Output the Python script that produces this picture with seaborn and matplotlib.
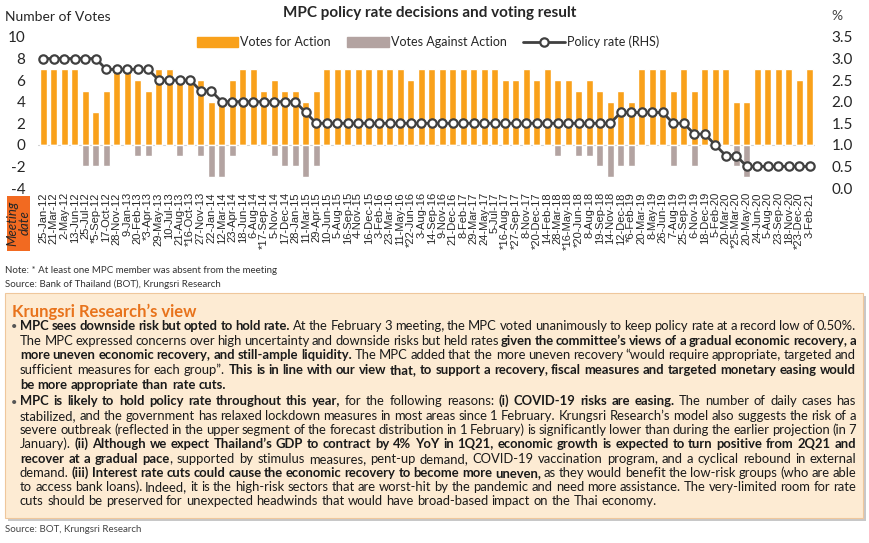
import matplotlib
matplotlib.use('Agg')
import matplotlib.pyplot as plt
import seaborn as sns
import numpy as np
import pandas as pd
from matplotlib.font_manager import FontProperties
from matplotlib.patches import Patch, Rectangle
from matplotlib.lines import Line2D

meeting_dates = [
    '25-Jan-12', '21-Mar-12', '2-May-12', '13-Jun-12', '25-Jul-12', '*5-Sep-12', '17-Oct-12', '28-Nov-12',
    '9-Jan-13', '20-Feb-13', '*3-Apr-13', '29-May-13', '10-Jul-13', '21-Aug-13', '*16-Oct-13', '27-Nov-13',
    '22-Jan-14', '12-Mar-14', '23-Apr-14', '18-Jun-14', '6-Aug-14', '*17-Sep-14', '5-Nov-14', '17-Dec-14',
    '28-Jan-15', '11-Mar-15', '29-Apr-15', '10-Jun-15', '5-Aug-15', '16-Sep-15', '4-Nov-15', '16-Dec-15',
    '3-Feb-16', '23-Mar-16', '11-May-16', '*22-Jun-16', '3-Aug-16', '14-Sep-16', '9-Nov-16', '21-Dec-16',
    '8-Feb-17', '29-Mar-17', '24-May-17', '5-Jul-17', '*16-Aug-17', '*27-Sep-17', '8-Nov-17', '*20-Dec-17',
    '14-Feb-18', '28-Mar-18', '*16-May-18', '*20-Jun-18', '8-Aug-18', '19-Sep-18', '14-Nov-18', '12-Dec-18',
    '*6-Feb-19', '20-Mar-19', '8-May-19', '26-Jun-19', '7-Aug-19', '25-Sep-19', '6-Nov-19', '18-Dec-19',
    '5-Feb-20', '20-Mar-20', '*25-Mar-20', '20-May-20', '24-Jun-20', '5-Aug-20', '23-Sep-20', '18-Nov-20',
    '*23-Dec-20', '3-Feb-21']

votes_for = [7, 7, 7, 7, 5, 3, 5, 7,
             7, 6, 5, 7, 7, 6, 6, 6,
             4, 4, 6, 7, 7, 5, 6, 5,
             5, 4, 5, 7, 7, 7, 7, 7,
             7, 7, 7, 6, 7, 7, 7, 7,
             7, 7, 7, 7, 6, 6, 7, 6,
             7, 6, 6, 5, 6, 5, 4, 5,
             4, 7, 7, 7, 5, 7, 5, 7,
             7, 7, 4, 4, 7, 7, 7, 7,
             6, 7]

votes_against = [0, 0, 0, 0, -2, -2, -2, 0,
                 0, -1, -1, 0, 0, -1, 0, -1,
                 -3, -3, -1, 0, 0, 0, -1, -2,
                 -2, -3, -2, 0, 0, 0, 0, 0,
                 0, 0, 0, 0, 0, 0, 0, 0,
                 0, 0, 0, 0, 0, 0, 0, 0,
                 0, -1, 0, -1, -1, -2, -3, -2,
                 -2, 0, 0, 0, -2, 0, -2, 0,
                 0, 0, -2, -3, 0, 0, 0, 0,
                 0, 0]

policy_rate = [3.0, 3.0, 3.0, 3.0, 3.0, 3.0, 2.75, 2.75,
               2.75, 2.75, 2.75, 2.5, 2.5, 2.5, 2.5, 2.25,
               2.25, 2.0, 2.0, 2.0, 2.0, 2.0, 2.0, 2.0,
               2.0, 1.75, 1.5, 1.5, 1.5, 1.5, 1.5, 1.5,
               1.5, 1.5, 1.5, 1.5, 1.5, 1.5, 1.5, 1.5,
               1.5, 1.5, 1.5, 1.5, 1.5, 1.5, 1.5, 1.5,
               1.5, 1.5, 1.5, 1.5, 1.5, 1.5, 1.5, 1.75,
               1.75, 1.75, 1.75, 1.75, 1.5, 1.5, 1.25, 1.25,
               1.0, 0.75, 0.75, 0.5, 0.5, 0.5, 0.5, 0.5,
               0.5, 0.5]

bullet_1 = [
    [(True, 'MPC sees downside risk but opted to hold rate.'),
     (False, ' At the February 3 meeting, the MPC voted unanimously to keep policy rate at a record low of 0.50%.')],
    [(False, 'The MPC expressed concerns over high uncertainty and downside risks but held rates '),
     (True, 'given the committee’s views of a gradual economic recovery, a')],
    [(True, 'more uneven economic recovery, and still-ample liquidity.'),
     (False, ' The MPC added that the more uneven recovery “would require appropriate, targeted and')],
    [(False, 'sufficient measures for each group”. '),
     (True, 'This is in line with our view that, to support a recovery, fiscal measures and targeted monetary easing would')],
    [(True, 'be more appropriate than rate cuts.')],
]
bullet_2 = [
    [(True, 'MPC is likely to hold policy rate throughout this year,'),
     (False, ' for the following reasons: '),
     (True, '(i) COVID-19 risks are easing.'),
     (False, ' The number of daily cases has')],
    [(False, 'stabilized, and the government has relaxed lockdown measures in most areas since 1 February. Krungsri Research’s model also suggests the risk of a')],
    [(False, 'severe outbreak (reflected in the upper segment of the forecast distribution in 1 February) is significantly lower than during the earlier projection (in 7')],
    [(False, 'January). '),
     (True, '(ii) Although we expect Thailand’s GDP to contract by 4% YoY in 1Q21, economic growth is expected to turn positive from 2Q21 and')],
    [(True, 'recover at a gradual pace'),
     (False, ', supported by stimulus measures, pent-up demand, COVID-19 vaccination program, and a cyclical rebound in external')],
    [(False, 'demand. '),
     (True, '(iii) Interest rate cuts could cause the economic recovery to become more uneven,'),
     (False, ' as they would benefit the low-risk groups (who are able')],
    [(False, 'to access bank loans). Indeed, it is the high-risk sectors that are worst-hit by the pandemic and need more assistance. The very-limited room for rate')],
    [(False, 'cuts should be preserved for unexpected headwinds that would have broad-based impact on the Thai economy.')],
]

sns.set_style('white')
plt.rcParams['font.family'] = ['Lato', 'DejaVu Sans']
plt.rcParams['axes.unicode_minus'] = False

BODY = 'Lato'
ORANGE = '#F9A11B'
GREY = '#B3A3A1'
LINE = '#404040'
W, H = 870, 543

def fx(px):
    return px / W

def fy(py):
    return 1 - py / H

fig = plt.figure(figsize=(8.7, 5.43), dpi=100)

# ---- chart ----
n = len(meeting_dates)
ax = fig.add_axes([fx(38), fy(188), 777 / W, 151 / H])
df = pd.DataFrame({'date': meeting_dates, 'for': votes_for, 'against': votes_against})
ax.axhline(0, color='#D0D0D0', lw=0.8, zorder=0)
sns.barplot(data=df, x='date', y='for', color=ORANGE, saturation=1, width=0.66, ax=ax)
sns.barplot(data=df, x='date', y='against', color=GREY, saturation=1, width=0.66, ax=ax)
ax.set_xlim(-0.5, n - 0.5)
ax.set_ylim(-4, 10)
ax.set_yticks(range(-4, 11, 2))
ax.set_xticks(range(n))
ax.set_xticklabels(meeting_dates, rotation=90, fontsize=8, family='Liberation Sans')
ax.tick_params(axis='x', length=0, pad=3)
ax.tick_params(axis='y', length=0, pad=9, labelsize=11)
ax.set_xlabel('')
ax.set_ylabel('')
for s in ax.spines.values():
    s.set_visible(False)

ax2 = ax.twinx()
sns.lineplot(x=np.arange(n), y=policy_rate, ax=ax2, color=LINE, lw=2,
             marker='o', markersize=6, markerfacecolor='white',
             markeredgecolor=LINE, markeredgewidth=1.6)
ax2.set_ylim(0, 3.5)
ax2.set_yticks(np.arange(0, 3.51, 0.5))
ax2.set_yticklabels([f'{v:.1f}' for v in np.arange(0, 3.51, 0.5)])
ax2.tick_params(axis='y', length=0, pad=12, labelsize=11)
for s in ax2.spines.values():
    s.set_visible(False)

fig.text(fx(5), fy(17), 'Number of Votes', fontsize=10, va='center')
fig.text(fx(430), fy(13), 'MPC policy rate decisions and voting result', fontsize=11,
         fontweight='bold', ha='center', va='center')
fig.text(fx(831), fy(16), '%', fontsize=10, va='center', color='#444444')

handles = [Patch(color=ORANGE), Patch(color=GREY),
           Line2D([], [], color=LINE, lw=2, marker='o', markersize=6,
                  markerfacecolor='white', markeredgecolor=LINE, markeredgewidth=1.6)]
fig.legend(handles, ['Votes for Action', 'Votes Against Action', 'Policy rate (RHS)'],
           loc='center', bbox_to_anchor=(fx(428), fy(42)), ncol=3, frameon=False,
           fontsize=9, handlelength=3.3, handleheight=0.8, handletextpad=0.2,
           columnspacing=1.3)

fig.patches.append(Rectangle((fx(7), fy(251)), 23 / W, 55 / H, transform=fig.transFigure,
                             facecolor='#F26A21', edgecolor='none'))
fig.text(fx(18.5), fy(223), 'Meeting\ndate', rotation=90, fontsize=9.5, style='italic',
         ha='center', va='center', linespacing=1.0)

fig.text(fx(5), fy(270), 'Note: * At least one MPC member was absent from the meeting',
         fontsize=7, va='center', color='#333333')
fig.text(fx(5), fy(284), 'Source: Bank of Thailand (BOT), Krungsri Research',
         fontsize=7, va='center', color='#333333')

# ---- commentary box ----
fig.patches.append(Rectangle((fx(8), fy(521)), 858 / W, 225 / H, transform=fig.transFigure,
                             facecolor='#C8C8C8', edgecolor='none', zorder=0))
fig.patches.append(Rectangle((fx(5), fy(518)), 858 / W, 225 / H, transform=fig.transFigure,
                             facecolor='#FDEBD3', edgecolor='#EFC79C', lw=0.8, zorder=1))
fig.text(fx(12), fy(312), 'Krungsri Research’s view', fontsize=12, fontweight='bold',
         color='#E8731C', va='center')

renderer = fig.canvas.get_renderer()
X0, X1 = 20, 856


def tokenize(segments):
    toks = []
    prev_space = True
    for bold, txt in segments:
        words = txt.split()
        for i, w in enumerate(words):
            glue = (i == 0 and toks and not prev_space and not txt.startswith(' '))
            toks.append((w, bold, bool(glue)))
        prev_space = txt.endswith(' ')
    return toks


def width_of(s, bold, size):
    prop = FontProperties(family=BODY, size=size, weight='bold' if bold else 'normal')
    w, _, _ = renderer.get_text_width_height_descent(s, prop, ismath=False)
    return w


all_lines = bullet_1 + bullet_2
size = 9.4
widest = 0
for segs in all_lines:
    toks = tokenize(segs)
    tot = sum(width_of(t, b, size) for t, b, g in toks)
    tot += sum(1 for t, b, g in toks[1:] if not g) * width_of(' ', False, size) * 0.6
    widest = max(widest, tot)
if widest > (X1 - X0):
    size = size * (X1 - X0) / widest
space = width_of('a a', False, size) - width_of('aa', False, size)


def draw_line(segs, y, justify):
    toks = tokenize(segs)
    widths = [width_of(t, b, size) for t, b, g in toks]
    ngaps = sum(1 for t, b, g in toks[1:] if not g)
    gap = (X1 - X0 - sum(widths)) / ngaps if (justify and ngaps) else space
    base = int(y + 3.5) + 0.2
    x = X0
    for i, ((t, b, g), w) in enumerate(zip(toks, widths)):
        if i > 0 and not g:
            x += gap
        fig.text(fx(x), fy(base), t, fontsize=size, family=BODY,
                 fontweight='bold' if b else 'normal', va='baseline', color='#1A1A1A')
        x += w


for para, ys in [(bullet_1, [327, 341.5, 356, 370.5, 385.5]),
                 (bullet_2, [402, 416.5, 431, 445, 459.5, 473.5, 487.5, 501.5])]:
    fig.text(fx(11), fy(ys[0]), '•', fontsize=8, va='center', color='#555555')
    for k, (segs, y) in enumerate(zip(para, ys)):
        draw_line(segs, y, justify=(k < len(para) - 1))

fig.text(fx(5), fy(530), 'Source: BOT, Krungsri Research', fontsize=7,
         va='center', color='#444444')

plt.savefig('out.png', dpi=100)
